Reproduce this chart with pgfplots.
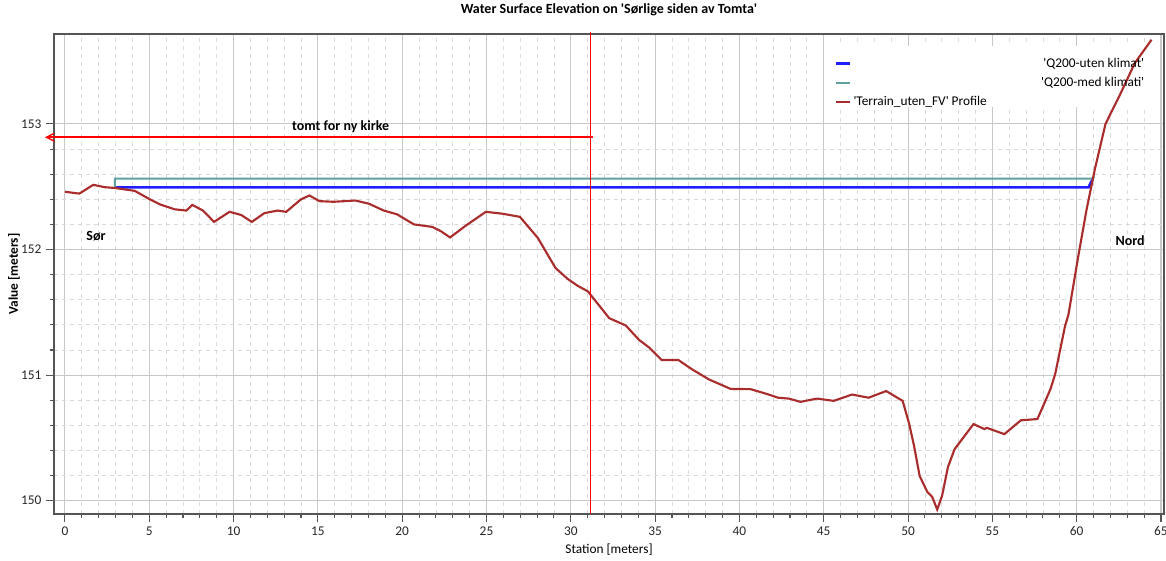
\documentclass[border=0pt]{standalone}
\usepackage{fontspec}
\setmainfont{Carlito}
\usepackage{pgfplots}
\pgfplotsset{compat=1.18}
\usetikzlibrary{arrows.meta}
\definecolor{terr}{RGB}{170,45,45}
\definecolor{wsblue}{RGB}{30,30,255}
\definecolor{wsteal}{RGB}{95,160,160}
\definecolor{axgray}{RGB}{85,85,85}
\definecolor{gmaj}{RGB}{200,200,200}
\definecolor{gmin}{RGB}{218,218,218}
\definecolor{annred}{RGB}{255,0,0}
\pgfplotstableread{
x y
0 152.46
0.85 152.445
1.68 152.515
2.37 152.496
2.96 152.49
4.14 152.467
5.03 152.40
5.62 152.36
6.51 152.32
7.2 152.31
7.55 152.355
8.19 152.31
8.84 152.22
9.76 152.30
10.45 152.275
11.08 152.22
11.83 152.29
12.62 152.31
13.12 152.30
14.0 152.40
14.5 152.43
15.09 152.385
15.93 152.38
17.22 152.39
18.02 152.365
18.91 152.31
19.70 152.28
20.69 152.20
21.79 152.18
22.28 152.147
22.84 152.096
23.77 152.19
24.96 152.30
25.95 152.285
26.98 152.26
28.04 152.093
29.09 151.853
29.82 151.765
30.42 151.71
31.01 151.667
32.28 151.453
33.26 151.395
34.05 151.28
34.64 151.22
35.39 151.12
36.38 151.12
37.2 151.045
38.2 150.965
39.48 150.89
40.66 150.888
41.55 150.853
42.3 150.82
42.93 150.813
43.62 150.787
44.6 150.813
45.59 150.795
46.68 150.845
47.66 150.82
48.7 150.873
49.68 150.795
50.06 150.615
50.35 150.44
50.69 150.196
51.14 150.07
51.43 150.03
51.73 149.93
52.02 150.04
52.37 150.27
52.76 150.41
53.88 150.61
54.53 150.57
54.67 150.58
55.71 150.53
56.69 150.64
57.67 150.65
58.0 150.75
58.45 150.89
58.72 151.005
59.31 151.39
59.51 151.48
60.1 151.95
60.59 152.32
61.08 152.64
61.71 153.0
62.56 153.23
63.45 153.485
64.44 153.67
}\terrain
\pgfplotstableread{
x y
2.96 152.495
60.7 152.495
60.95 152.56
}\uten
\pgfplotstableread{
x y
2.96 152.49
2.96 152.565
60.9 152.565
61.05 152.58
}\med
\begin{document}
\begin{tikzpicture}
\begin{axis}[
  set layers,
  scale only axis, width=832.5pt, height=360pt,
  xmin=-0.65, xmax=65.18, ymin=149.894, ymax=153.716,
  clip=false,
  xtick={0,5,...,65}, ytick={150,151,152,153},
  minor x tick num=4, minor y tick num=4,
  grid=both,
  major grid style={draw=gmaj, line width=0.8pt},
  minor grid style={draw=gmin, dashed, line width=0.6pt},
  tick align=outside, xtick pos=bottom, ytick pos=left,
  major tick length=6pt, minor tick length=3pt,
  tick style={axgray, line width=0.8pt},
  axis line style={axgray, line width=1pt},
  /pgf/number format/assume math mode=true,
  ticklabel style={font=\fontsize{10}{12}\selectfont, text=black!85},
  yticklabel style={/pgf/number format/1000 sep={}},
  title={Water Surface Elevation on \textquotesingle Sørlige siden av Tomta\textquotesingle},
  title style={font=\bfseries\fontsize{10.5}{12}\selectfont, at={(axis description cs:0.5,1)}, anchor=south, yshift=4pt},
  xlabel={Station [meters]},
  xlabel style={font=\fontsize{10}{12}\selectfont, at={(axis description cs:0.5,-0.075)}, anchor=center},
  ylabel={Value [meters]},
  ylabel style={font=\bfseries\fontsize{10}{12}\selectfont, at={(axis description cs:-0.036,0.5)}, anchor=center},
  legend image code/.code={\draw[#1] (0pt,0pt) -- (11pt,0pt);},
  legend cell align=left,
  legend style={at={(axis description cs:0.693,0.965)}, anchor=north west, draw=none, fill=none,
    font=\fontsize{10}{12}\selectfont, row sep=1.5pt, inner xsep=8pt, inner ysep=3pt,
    nodes={inner sep=1.5pt, text height=7.5pt, text depth=2.5pt}},
]
\begin{pgfonlayer}{axis ticks}
\fill[white] (axis description cs:0.694,0.848) rectangle (axis description cs:0.995,0.975);
\end{pgfonlayer}
\addplot[wsblue, line width=2pt] table {\uten};
\addlegendentry{\makebox[218pt][r]{\textquotesingle Q200-uten klimat\textquotesingle}}
\addplot[wsteal, line width=1.5pt] table {\med};
\addlegendentry{\makebox[218pt][r]{\textquotesingle Q200-med klimati\textquotesingle}}
\addplot[terr, line width=1.6pt] table {\terrain};
\addlegendentry{\makebox[218pt][l]{\textquotesingle Terrain\_uten\_FV\textquotesingle{} Profile}}
\draw[draw=annred, line width=0.8pt] (axis cs:31.15,149.894) -- (axis cs:31.15,153.73);
\draw[draw=annred, line width=1.4pt, -{Straight Barb[length=6pt,width=6pt,line width=1pt]}] (axis cs:31.3,152.894) -- (axis cs:-1.19,152.894);
\node[font=\bfseries\fontsize{10.5}{12}\selectfont] at (axis cs:16.35,152.98) {tomt for ny kirke};
\node[font=\bfseries\fontsize{10.5}{12}\selectfont] at (axis cs:1.84,152.11) {Sør};
\node[font=\bfseries\fontsize{10.5}{12}\selectfont] at (axis cs:63.17,152.07) {Nord};
\end{axis}
\pgfresetboundingbox
\path[use as bounding box] ([shift={(-40.5pt,-34.5pt)}]current axis.south west) rectangle ([shift={(1.5pt,25.5pt)}]current axis.north east);
\end{tikzpicture}
\end{document}
